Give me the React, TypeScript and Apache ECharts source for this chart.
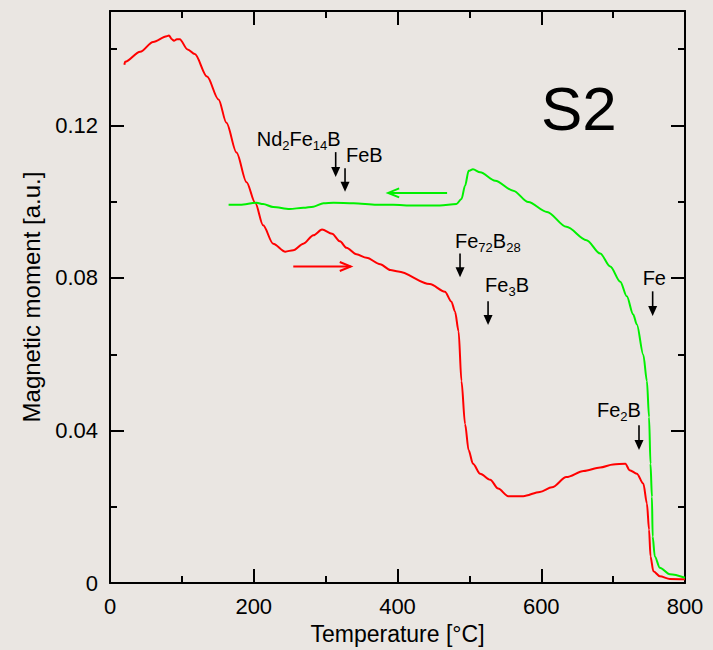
import { useEffect, useRef } from 'react';
import * as echarts from 'echarts';

// Heating run (red): temperature [°C] and magnetic moment [a.u.]
const heatingT = [20, 21, 42, 60, 79, 82, 86, 89, 93, 97, 108, 118, 135, 151, 162, 176, 190, 202, 213, 227, 244, 255, 269, 283, 295, 309, 320, 329, 343, 357, 376, 390, 401, 445, 466, 475, 480, 485, 489, 494, 499, 505, 515, 529, 540, 554, 575, 598, 615, 635, 659, 682, 700, 717, 723, 733, 742, 747, 750, 752, 756, 765, 779, 800];
const heatingM = [0.1359, 0.1367, 0.1393, 0.1419, 0.1434, 0.1436, 0.1426, 0.1422, 0.1426, 0.1426, 0.1399, 0.1387, 0.1328, 0.1268, 0.1207, 0.1129, 0.1051, 0.0997, 0.0938, 0.089, 0.0869, 0.0873, 0.089, 0.0912, 0.0927, 0.0916, 0.0896, 0.0879, 0.0862, 0.0853, 0.0836, 0.0821, 0.0817, 0.0784, 0.0764, 0.0738, 0.0712, 0.066, 0.053, 0.0417, 0.0348, 0.0313, 0.0287, 0.0271, 0.0248, 0.0228, 0.0228, 0.0239, 0.0251, 0.0278, 0.0294, 0.0303, 0.0311, 0.0313, 0.0296, 0.0287, 0.0261, 0.0209, 0.014, 0.007, 0.0031, 0.0018, 0.0011, 0.001];

// Cooling run (green)
const coolingT = [165, 181, 204, 213, 227, 250, 269, 283, 297, 311, 339, 371, 394, 422, 459, 482, 489, 494, 499, 505, 515, 536, 561, 582, 608, 635, 663, 682, 696, 710, 719, 728, 733, 742, 747, 750, 752, 754, 755, 758, 765, 779, 800];
const coolingM = [0.0992, 0.0992, 0.0997, 0.0994, 0.0986, 0.0981, 0.0984, 0.0987, 0.0996, 0.0997, 0.0996, 0.0992, 0.0992, 0.099, 0.099, 0.0994, 0.1007, 0.1042, 0.1081, 0.1085, 0.1077, 0.1055, 0.1029, 0.0999, 0.0973, 0.0934, 0.0899, 0.0864, 0.083, 0.079, 0.0752, 0.0704, 0.0678, 0.0599, 0.053, 0.0435, 0.0313, 0.0226, 0.0122, 0.007, 0.004, 0.0023, 0.0014];

// Axis ranges and tick steps
const xRange = [0, 800];
const xMajorStep = 200;
const xMinorStep = 100;
const yRange = [0, 0.15];
const yMajorStep = 0.04;
const yMinorStep = 0.02;

// Phase transition markers: arrow temperature, arrow top and tip (moment), label in rich text
const phaseLabels = ['{m|Nd}{s|2}{m|Fe}{s|14}{m|B}', '{m|FeB}', '{m|Fe}{s|72}{m|B}{s|28}', '{m|Fe}{s|3}{m|B}', '{m|Fe}', '{m|Fe}{s|2}{m|B}'];
const phaseT = [314, 327, 487, 526, 755, 736];
const phaseTop = [0.113, 0.1088, 0.0864, 0.0739, 0.0765, 0.0414];
const phaseTip = [0.1065, 0.1026, 0.0802, 0.0677, 0.07, 0.0349];
// label offset from arrow top, px
const phaseLabelDx = [-79, 1, -5, -3, -10, -42];
const phaseLabelDy = [-26, -26, -26, -29, -26, -28];

// Run direction arrows: [fromT, toT, moment]
const heatingArrow = [255, 335, 0.083];
const coolingArrow = [469, 387, 0.1023];

const RED = '#ff0000';
const GREEN = '#00f000';
const BG = '#eae6e2';
const FONT = 'Liberation Sans, Arial, sans-serif';

export default function App() {
  const ref = useRef<HTMLDivElement>(null);

  useEffect(() => {
    if (!ref.current) return;
    const chart = echarts.init(ref.current, undefined, { renderer: 'svg' });

    const frameLine = { show: true, onZero: false, lineStyle: { color: '#000', width: 2 } };
    const noLine = { show: false, onZero: false };
    const tick = (len: number) => ({ show: true, inside: true, length: len, lineStyle: { color: '#000', width: 2 } });
    const textStyle = { fontSize: 22, color: '#000', fontFamily: FONT };

    const xBase = { type: 'value', min: xRange[0], max: xRange[1], splitLine: { show: false } };
    const yBase = { type: 'value', min: yRange[0], max: yRange[1], splitLine: { show: false } };

    chart.setOption({
      animation: false,
      backgroundColor: BG,
      grid: { left: 110, right: 28, top: 11, bottom: 63, containLabel: false },
      xAxis: [
        {
          ...xBase, position: 'bottom', interval: xMajorStep,
          axisLine: frameLine, axisTick: tick(14),
          axisLabel: { margin: 12, ...textStyle },
          name: 'Temperature [°C]', nameLocation: 'middle', nameGap: 37,
          nameTextStyle: { ...textStyle, fontSize: 23 },
        },
        { ...xBase, position: 'top', interval: xMajorStep, axisLine: frameLine, axisTick: tick(14), axisLabel: { show: false } },
        { ...xBase, position: 'bottom', interval: xMinorStep, axisLine: noLine, axisTick: tick(7), axisLabel: { show: false } },
        { ...xBase, position: 'top', interval: xMinorStep, axisLine: noLine, axisTick: tick(7), axisLabel: { show: false } },
      ],
      yAxis: [
        {
          ...yBase, position: 'left', interval: yMajorStep,
          axisLine: frameLine, axisTick: tick(14),
          axisLabel: { margin: 12, ...textStyle, showMaxLabel: false,
            formatter: (v: number) => (v === 0 ? '0' : v.toFixed(2)) },
          name: 'Magnetic moment [a.u.]', nameLocation: 'middle', nameGap: 67,
          nameTextStyle: { ...textStyle, fontSize: 24 },
        },
        { ...yBase, position: 'right', interval: yMajorStep, axisLine: frameLine, axisTick: tick(14), axisLabel: { show: false } },
        { ...yBase, position: 'left', interval: yMinorStep, axisLine: noLine, axisTick: tick(7), axisLabel: { show: false } },
        { ...yBase, position: 'right', interval: yMinorStep, axisLine: noLine, axisTick: tick(7), axisLabel: { show: false } },
      ],
      series: [
        {
          type: 'line', name: 'heating', xAxisIndex: 0, yAxisIndex: 0, showSymbol: false,
          smooth: 0.3, smoothMonotone: 'x',
          data: heatingT.map((t, i) => [t, heatingM[i]]),
          lineStyle: { color: RED, width: 2 }, itemStyle: { color: RED },
        },
        {
          type: 'line', name: 'cooling', xAxisIndex: 0, yAxisIndex: 0, showSymbol: false,
          smooth: 0.3, smoothMonotone: 'x',
          data: coolingT.map((t, i) => [t, coolingM[i]]),
          lineStyle: { color: GREEN, width: 2 }, itemStyle: { color: GREEN },
        },
      ],
    });

    const px = (t: number, m: number) => chart.convertToPixel({ xAxisIndex: 0, yAxisIndex: 0 }, [t, m]) as number[];

    const elements: any[] = [];

    // phase markers
    phaseT.forEach((t, i) => {
      const [x, yTop] = px(t, phaseTop[i]);
      const [, yTip] = px(t, phaseTip[i]);
      elements.push({
        type: 'line', silent: true,
        shape: { x1: x, y1: yTop, x2: x, y2: yTip - 8 },
        style: { stroke: '#000', lineWidth: 1.6 },
      });
      elements.push({
        type: 'polygon', silent: true,
        shape: { points: [[x - 4.5, yTip - 10], [x + 4.5, yTip - 10], [x, yTip]] },
        style: { fill: '#000' },
      });
      elements.push({
        type: 'text', silent: true,
        x: x + phaseLabelDx[i], y: yTop + phaseLabelDy[i],
        style: {
          text: phaseLabels[i], align: 'left', verticalAlign: 'top',
          rich: {
            m: { fontSize: 20, lineHeight: 26, fontFamily: FONT, fill: '#000' },
            s: { fontSize: 13, lineHeight: 13, verticalAlign: 'bottom', fontFamily: FONT, fill: '#000' },
          },
        },
      });
    });

    // run direction arrows (open heads)
    const dirArrow = (a: number[], color: string) => {
      const [x1, y] = px(a[0], a[2]);
      const [x2] = px(a[1], a[2]);
      const dir = x2 > x1 ? 1 : -1;
      elements.push({
        type: 'line', silent: true,
        shape: { x1, y1: y, x2, y2: y },
        style: { stroke: color, lineWidth: 2 },
      });
      elements.push({
        type: 'polyline', silent: true,
        shape: { points: [[x2 - dir * 11, y - 4.5], [x2, y], [x2 - dir * 11, y + 4.5]] },
        style: { stroke: color, lineWidth: 2, fill: 'none' },
      });
    };
    dirArrow(heatingArrow, RED);
    dirArrow(coolingArrow, GREEN);

    // sample name
    elements.push({
      type: 'text', silent: true, x: 541, y: 108,
      style: { text: 'S2', fontSize: 62, fontFamily: FONT, fill: '#000', align: 'left', verticalAlign: 'middle' },
    });

    chart.setOption({ graphic: { elements } });

    return () => chart.dispose();
  }, []);

  return (
    <div
      ref={ref}
      style={{ position: 'absolute', left: 0, top: 0, width: 713, height: 650, background: BG }}
    />
  );
}
